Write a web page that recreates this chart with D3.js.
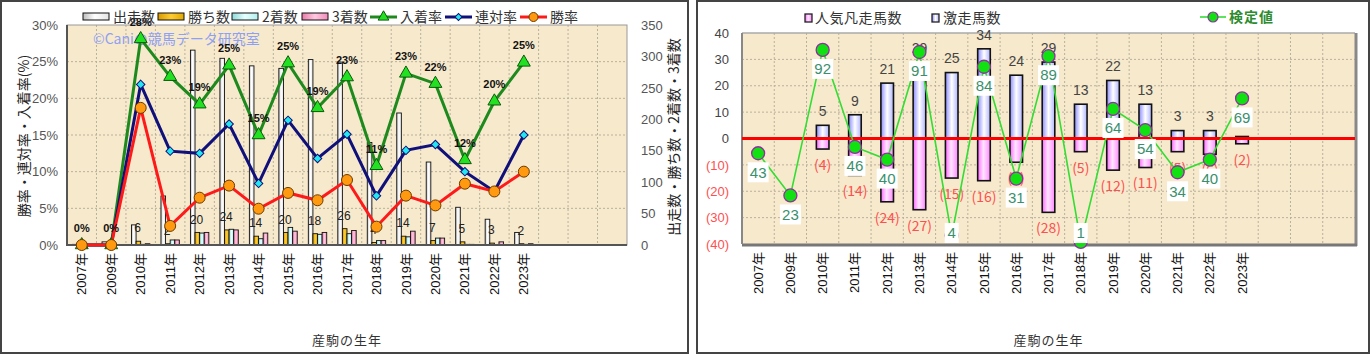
<!DOCTYPE html>
<html><head><meta charset="utf-8">
<script src="https://cdn.jsdelivr.net/npm/d3@7"></script>
<style>
body{margin:0;background:#fff;}
svg{display:block;font-family:"Noto Sans CJK JP","Noto Sans",sans-serif;}
</style>
</head><body>
<svg id="c" width="1371" height="355"></svg>
<script>
// ---------------- DATA ----------------
const years = ["2007年","2009年","2010年","2011年","2012年","2013年","2014年","2015年","2016年","2017年","2018年","2019年","2020年","2021年","2022年","2023年"];
// left chart (counts, right axis)
const runs    = [1,5,32,78,310,297,285,281,295,291,163,210,132,60,41,20];
const wins    = [0,0,6,2,20,24,14,20,18,26,4,14,7,5,3,2];
const seconds = [0,0,1,8,19,25,10,28,17,18,7,13,11,1,0,1];
const thirds  = [0,0,2,8,20,24,19,22,20,23,7,22,11,1,5,2];
// left chart (rates %, left axis)
const placeRate   = [0,0,28.1,22.95,19.2,24.5,15.0,24.8,18.7,22.9,10.8,23.4,22.0,11.6,19.6,24.9];
const rentaiRate  = [0,0,21.9,12.8,12.5,16.5,8.4,17.0,11.8,15.1,6.7,12.9,13.7,10.0,7.3,15.0];
const winRate     = [0,0,18.7,2.6,6.45,8.1,4.95,7.1,6.1,8.86,2.5,6.73,5.4,8.36,7.3,10.0];
const leftRateTicks  = [0,5,10,15,20,25,30];
const leftCountTicks = [0,50,100,150,200,250,300,350];
// right chart
const gekiso = [0,0,5,9,21,29,25,34,24,29,13,22,13,3,3,0];     // 激走馬数
const bonso  = [0,0,4,14,24,27,15,16,9,28,5,12,11,5,6,2];      // 人気凡走馬数
const kentei = [43,23,92,46,40,91,4,84,31,89,1,64,54,34,40,69]; // 検定値
const rightTicks = [-40,-30,-20,-10,0,10,20,30,40];
const SLOTS = 19;

// ---------------- SETUP ----------------
const svg = d3.select("#c");
const defs = svg.append("defs");
function hgrad(id, stops){
  const g = defs.append("linearGradient").attr("id",id).attr("x1","0").attr("x2","1").attr("y1","0").attr("y2","0");
  stops.forEach(([o,c])=>g.append("stop").attr("offset",o).attr("stop-color",c));
}
hgrad("gRun",[["0","#bdbdbd"],["0.45","#ffffff"],["1","#e4e4e4"]]);
hgrad("gWin",[["0","#d79a00"],["0.5","#ffcc33"],["1","#e0a800"]]);
hgrad("gSec",[["0","#8fd8d8"],["0.5","#e6ffff"],["1","#b4eeee"]]);
hgrad("gThr",[["0","#e87aa8"],["0.5","#ffc8e0"],["1","#f08cb8"]]);
hgrad("gBlue",[["0","#8c8cff"],["0.5","#ffffff"],["1","#b0b4ff"]]);
hgrad("gPink",[["0","#ff66ff"],["0.45","#ffe6ff"],["1","#ff88ff"]]);

// panels
svg.append("rect").attr("x",1).attr("y",1).attr("width",687).attr("height",352)
  .attr("fill","#fff").attr("stroke","#444").attr("stroke-width",2);
svg.append("rect").attr("x",697).attr("y",1).attr("width",672).attr("height",352)
  .attr("fill","#fff").attr("stroke","#444").attr("stroke-width",2);

const BG = "#f7e9cc";
const GRID = "#b9b09c";
const NUMF = "Liberation Sans, Arial, sans-serif";

// ================= LEFT CHART =================
const L = {x0:67,x1:627,y0:25,y1:245};
const xL = d3.scaleBand().domain(d3.range(SLOTS)).range([L.x0,L.x1]);
const cxL = i => xL(i) + xL.bandwidth()/2;
const yRate = d3.scaleLinear().domain([0,30]).range([L.y1,L.y0]);
const yCnt  = d3.scaleLinear().domain([0,350]).range([L.y1,L.y0]);
const gl = svg.append("g");
gl.append("rect").attr("x",L.x0).attr("y",L.y0).attr("width",L.x1-L.x0).attr("height",L.y1-L.y0).attr("fill",BG);
// grid
gl.selectAll(".vg").data(d3.range(1,SLOTS)).join("line")
  .attr("x1",i=>xL(i)).attr("x2",i=>xL(i)).attr("y1",L.y0).attr("y2",L.y1)
  .attr("stroke",GRID).attr("stroke-dasharray","2,2");
gl.selectAll(".hg").data(leftRateTicks.slice(1,-1)).join("line")
  .attr("x1",L.x0).attr("x2",L.x1).attr("y1",d=>yRate(d)).attr("y2",d=>yRate(d))
  .attr("stroke",GRID).attr("stroke-dasharray","2,2");
// watermark
gl.append("text").attr("x",93).attr("y",44).attr("font-size",14).attr("fill","#8fa0f2").text("©Caniの競馬データ研究室");
// border
gl.append("rect").attr("x",L.x0).attr("y",L.y0).attr("width",L.x1-L.x0).attr("height",L.y1-L.y0)
  .attr("fill","none").attr("stroke","#999").attr("stroke-width",1);

// bars
const bw = 4.6;
const barSeries = [[runs,"gRun",-2],[wins,"gWin",-1],[seconds,"gSec",0],[thirds,"gThr",1]];
barSeries.forEach(([arr,grad,k])=>{
  gl.append("g").selectAll("rect").data(arr).join("rect")
    .attr("x",(d,i)=>cxL(i)+k*bw).attr("width",bw)
    .attr("y",d=>yCnt(d)).attr("height",d=>L.y1-yCnt(d))
    .attr("display",d=>d>0?null:"none")
    .attr("fill",`url(#${grad})`).attr("stroke","#111").attr("stroke-width",0.9);
});
// win count labels
gl.append("g").selectAll("text").data(wins).join("text")
  .attr("x",(d,i)=>cxL(i)-3).attr("y",d=>yCnt(d)-13).attr("dy","0.35em")
  .attr("text-anchor","middle").attr("font-size",12).attr("fill","#222")
  .attr("font-family",NUMF)
  .text(d=>d>0?d:"");

// axes lines
gl.append("line").attr("x1",L.x0).attr("x2",L.x0).attr("y1",L.y0).attr("y2",L.y1+1).attr("stroke","#555").attr("stroke-width",2);
gl.append("line").attr("x1",L.x0).attr("x2",L.x1).attr("y1",L.y1).attr("y2",L.y1).attr("stroke","#555").attr("stroke-width",2);

// lines
const lineL = d3.line().x((d,i)=>cxL(i)).y(d=>yRate(d));
gl.append("path").datum(placeRate).attr("d",lineL).attr("fill","none").attr("stroke","#1e8a1e").attr("stroke-width",3);
gl.append("path").datum(rentaiRate).attr("d",lineL).attr("fill","none").attr("stroke","#10107a").attr("stroke-width",3);
gl.append("path").datum(winRate).attr("d",lineL).attr("fill","none").attr("stroke","#ff1a1a").attr("stroke-width",3);
// markers
gl.append("g").selectAll("path").data(placeRate).join("path")
  .attr("d",d3.symbol(d3.symbolTriangle,72))
  .attr("transform",(d,i)=>`translate(${cxL(i)},${yRate(d)})`)
  .attr("fill","#22e022").attr("stroke","#0b5a0b").attr("stroke-width",1);
gl.append("g").selectAll("path").data(rentaiRate).join("path")
  .attr("d",d3.symbol(d3.symbolSquare,36))
  .attr("transform",(d,i)=>`translate(${cxL(i)},${yRate(d)}) rotate(45)`)
  .attr("fill","#22e6f0").attr("stroke","#10107a").attr("stroke-width",1);
gl.append("g").selectAll("circle").data(winRate).join("circle")
  .attr("cx",(d,i)=>cxL(i)).attr("cy",d=>yRate(d)).attr("r",5.5)
  .attr("fill","#ff9a10").attr("stroke","#6a3a00").attr("stroke-width",1);
// place rate labels
gl.append("g").selectAll("text").data(placeRate).join("text")
  .attr("x",(d,i)=>cxL(i)).attr("y",d=>yRate(d)-17).attr("dy","0.35em")
  .attr("text-anchor","middle").attr("font-size",11).attr("font-weight","bold")
  .attr("font-family",NUMF).attr("fill","#111")
  .text(d=>Math.round(d)+"%");

// y axes
const axL = gl.append("g").attr("transform",`translate(${L.x0-6},0)`)
  .call(d3.axisLeft(yRate).tickValues(leftRateTicks).tickSize(0).tickFormat(d=>d+"%"));
axL.select(".domain").remove();
axL.selectAll("text").attr("font-size",13).attr("fill","#555").attr("font-family",NUMF);
const axR = gl.append("g").attr("transform",`translate(${L.x1+11},0)`)
  .call(d3.axisRight(yCnt).tickValues(leftCountTicks).tickSize(0));
axR.select(".domain").remove();
axR.selectAll("text").attr("font-size",13).attr("fill","#555").attr("font-family",NUMF);
// x labels
gl.append("g").selectAll("text").data(years).join("text")
  .attr("transform",(d,i)=>`translate(${cxL(i)},253) rotate(-90)`)
  .attr("dy","0.35em").attr("text-anchor","end").attr("font-size",13).attr("fill","#111")
  .attr("font-family","Liberation Sans, Arial, Noto Sans CJK JP, sans-serif")
  .text(d=>d);
// titles
gl.append("text").attr("x",(L.x0+L.x1)/2).attr("y",345).attr("text-anchor","middle")
  .attr("font-size",13).attr("letter-spacing",1).attr("fill","#333").text("産駒の生年");
gl.append("text").attr("transform","translate(24,136) rotate(-90)").attr("dy","0.35em")
  .attr("text-anchor","middle").attr("font-size",14).attr("fill","#222").text("勝率・連対率・入着率(%)");
gl.append("text").attr("transform","translate(674,137) rotate(-90)").attr("dy","0.35em")
  .attr("text-anchor","middle").attr("font-size",14).attr("fill","#222").text("出走数・勝ち数・2着数・3着数");

// legend (left)
const legL = gl.append("g").attr("font-size",14).attr("fill","#333");
const boxItems = [["出走数","gRun",83],["勝ち数","gWin",158],["2着数","gSec",232],["3着数","gThr",302]];
boxItems.forEach(([t,g,x])=>{
  legL.append("rect").attr("x",x).attr("y",13).attr("width",26).attr("height",7)
    .attr("fill",`url(#${g})`).attr("stroke","#111").attr("stroke-width",1);
  legL.append("text").attr("x",x+30).attr("y",17).attr("dy","0.35em").attr("fill","#333").text(t);
});
const lineItems = [["入着率","#1e8a1e",370,"tri"],["連対率","#10107a",445,"dia"],["勝率","#ff1a1a",520,"cir"]];
lineItems.forEach(([t,c,x,m])=>{
  legL.append("line").attr("x1",x).attr("x2",x+27).attr("y1",17).attr("y2",17).attr("stroke",c).attr("stroke-width",3);
  if(m==="tri") legL.append("path").attr("d",d3.symbol(d3.symbolTriangle,50)).attr("transform",`translate(${x+13.5},17)`).attr("fill","#22e022").attr("stroke","#0b5a0b");
  if(m==="dia") legL.append("path").attr("d",d3.symbol(d3.symbolSquare,25)).attr("transform",`translate(${x+13.5},17) rotate(45)`).attr("fill","#22e6f0").attr("stroke","#10107a");
  if(m==="cir") legL.append("circle").attr("cx",x+13.5).attr("cy",17).attr("r",4.5).attr("fill","#ff9a10").attr("stroke","#6a3a00");
  legL.append("text").attr("x",x+30).attr("y",17).attr("dy","0.35em").attr("fill","#333").text(t);
});

// ================= RIGHT CHART =================
const R = {x0:742,x1:1355,y0:33,y1:244};
const xR = d3.scaleBand().domain(d3.range(SLOTS)).range([R.x0,R.x1]);
const cxR = i => xR(i) + xR.bandwidth()/2;
const yR = d3.scaleLinear().domain([-40,40]).range([R.y1,R.y0]);
const yK = d3.scaleLinear().domain([0,100]).range([R.y1,R.y0]);
const gr = svg.append("g");
gr.append("rect").attr("x",R.x0).attr("y",R.y0).attr("width",R.x1-R.x0).attr("height",R.y1-R.y0).attr("fill",BG);
gr.selectAll(".vg").data(d3.range(1,SLOTS)).join("line")
  .attr("x1",i=>xR(i)).attr("x2",i=>xR(i)).attr("y1",R.y0).attr("y2",R.y1)
  .attr("stroke",GRID).attr("stroke-dasharray","2,2");
gr.selectAll(".hg").data(rightTicks.filter(d=>d>-40&&d<40&&d!==0)).join("line")
  .attr("x1",R.x0).attr("x2",R.x1).attr("y1",d=>yR(d)).attr("y2",d=>yR(d))
  .attr("stroke",GRID).attr("stroke-dasharray","2,2");
// frame with shadow
gr.append("line").attr("x1",R.x0).attr("x2",R.x1).attr("y1",R.y0).attr("y2",R.y0).attr("stroke","#aaa").attr("stroke-width",1.5);
gr.append("line").attr("x1",R.x1+1).attr("x2",R.x1+1).attr("y1",R.y0).attr("y2",R.y1+2).attr("stroke","#888").attr("stroke-width",3);
gr.append("line").attr("x1",R.x0).attr("x2",R.x1+2).attr("y1",R.y1+1).attr("y2",R.y1+1).attr("stroke","#777").attr("stroke-width",3);
gr.append("line").attr("x1",R.x0).attr("x2",R.x0).attr("y1",R.y0).attr("y2",R.y1).attr("stroke","#888").attr("stroke-width",2);

const rbw = 12.6;
gr.append("g").selectAll("rect").data(bonso).join("rect")
  .attr("x",(d,i)=>cxR(i)-rbw/2).attr("width",rbw)
  .attr("y",yR(0)).attr("height",d=>yR(-d)-yR(0))
  .attr("display",d=>d>0?null:"none")
  .attr("fill","url(#gPink)").attr("stroke","#111").attr("stroke-width",1.6);
gr.append("g").selectAll("rect").data(gekiso).join("rect")
  .attr("x",(d,i)=>cxR(i)-rbw/2).attr("width",rbw)
  .attr("y",d=>yR(d)-(d>0?0:2)).attr("height",d=>yR(0)-yR(d)+(d>0?0:2))
  .attr("display",(d,i)=>(d>0||bonso[i]>0)?null:"none")
  .attr("fill","url(#gBlue)").attr("stroke","#111").attr("stroke-width",1.6);
// value labels
gr.append("g").selectAll("text").data(gekiso).join("text")
  .attr("x",(d,i)=>cxR(i)).attr("y",d=>yR(d)-14).attr("dy","0.35em")
  .attr("text-anchor","middle").attr("font-size",14).attr("fill","#444")
  .attr("font-family",NUMF).text(d=>d>0?d:"");
gr.append("g").selectAll("text").data(bonso).join("text")
  .attr("x",(d,i)=>cxR(i)).attr("y",d=>yR(-d)+16).attr("dy","0.35em")
  .attr("text-anchor","middle").attr("font-size",14).attr("fill","#ff5050")
  .text(d=>d>0?"("+d+")":"");
// zero line
gr.append("line").attr("x1",R.x0).attr("x2",R.x1).attr("y1",yR(0)).attr("y2",yR(0)).attr("stroke","#ff0000").attr("stroke-width",3);
// kentei line
const lineK = d3.line().x((d,i)=>cxR(i)).y(d=>yK(d));
gr.append("path").datum(kentei).attr("d",lineK).attr("fill","none").attr("stroke","#33dd33").attr("stroke-width",1.6);
gr.append("g").selectAll("circle").data(kentei).join("circle")
  .attr("cx",(d,i)=>cxR(i)).attr("cy",d=>yK(d)).attr("r",6.5)
  .attr("fill","#11e011").attr("stroke","#9030a0").attr("stroke-width",1.3);
const kl = gr.append("g").selectAll("g").data(kentei).join("g")
  .attr("transform",(d,i)=>`translate(${cxR(i)},${Math.min(yK(d)+19,233)})`);
kl.append("rect").attr("x",d=>String(d).length>1?-10.5:-7).attr("y",-10)
  .attr("width",d=>String(d).length>1?21:14).attr("height",20).attr("fill","#fff");
kl.append("text").attr("dy","0.35em").attr("text-anchor","middle").attr("font-size",15)
  .attr("fill","#3a8f6c").attr("font-family",NUMF).text(d=>d);

// right y axis
const axRR = gr.append("g").attr("transform",`translate(${R.x0-10},0)`)
  .call(d3.axisLeft(yR).tickValues(rightTicks).tickSize(0).tickFormat(d=>d<0?"("+(-d)+")":d));
axRR.select(".domain").remove();
axRR.selectAll("text").attr("font-size",13)
  .attr("fill",d=>d<0?"#ff5050":"#444");
// x labels
gr.append("g").selectAll("text").data(years).join("text")
  .attr("transform",(d,i)=>`translate(${cxR(i)},252) rotate(-90)`)
  .attr("dy","0.35em").attr("text-anchor","end").attr("font-size",13).attr("fill","#111")
  .attr("font-family","Liberation Sans, Arial, Noto Sans CJK JP, sans-serif")
  .text(d=>d);
gr.append("text").attr("x",(R.x0+R.x1)/2).attr("y",345).attr("text-anchor","middle")
  .attr("font-size",13).attr("letter-spacing",1).attr("fill","#333").text("産駒の生年");
// legend right
const legR = gr.append("g").attr("font-size",14);
legR.append("rect").attr("x",805).attr("y",14).attr("width",7).attr("height",8).attr("fill","url(#gPink)").attr("stroke","#222").attr("stroke-width",1.3);
legR.append("text").attr("x",815).attr("y",18).attr("dy","0.35em").attr("fill","#333").attr("letter-spacing",0.5).text("人気凡走馬数");
legR.append("rect").attr("x",932).attr("y",14).attr("width",7).attr("height",8).attr("fill","url(#gBlue)").attr("stroke","#222").attr("stroke-width",1.3);
legR.append("text").attr("x",943).attr("y",18).attr("dy","0.35em").attr("fill","#333").attr("letter-spacing",0.5).text("激走馬数");
legR.append("line").attr("x1",1200).attr("x2",1226).attr("y1",17).attr("y2",17).attr("stroke","#33dd33").attr("stroke-width",1.6);
legR.append("circle").attr("cx",1213).attr("cy",17).attr("r",5).attr("fill","#11e011").attr("stroke","#9030a0").attr("stroke-width",1.2);
legR.append("text").attr("x",1229).attr("y",17).attr("dy","0.35em").attr("fill","#2e8b2e").attr("font-weight","bold").attr("letter-spacing",1).text("検定値");
</script>
</body></html>
